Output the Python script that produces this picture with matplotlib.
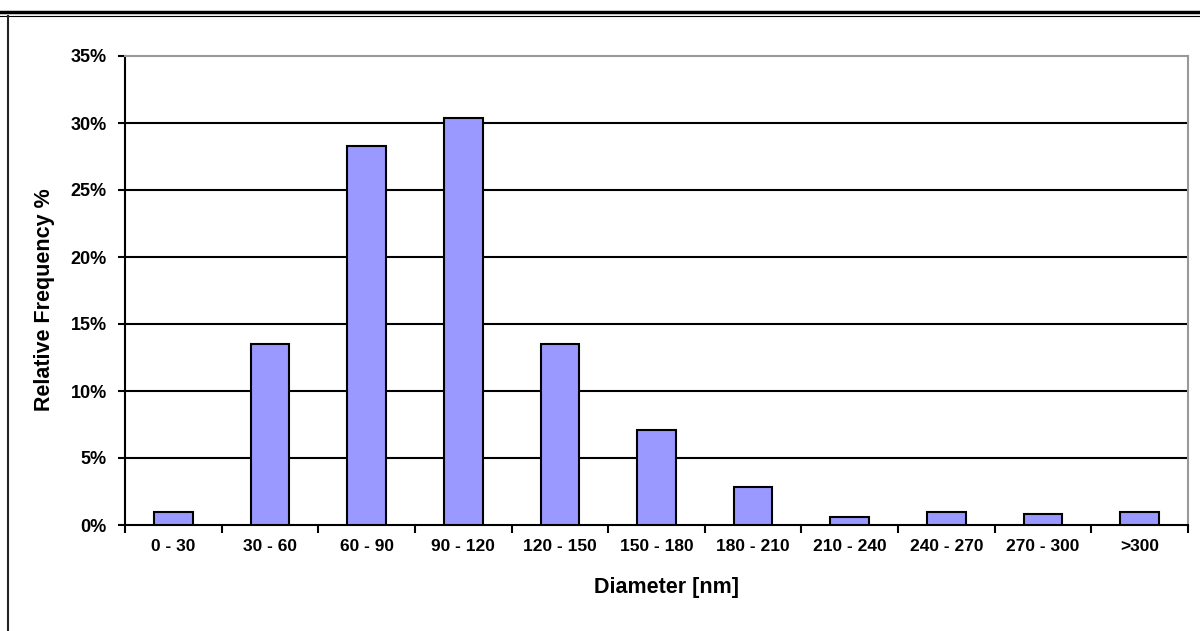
import matplotlib
matplotlib.use("Agg")
import matplotlib.pyplot as plt
from matplotlib.lines import Line2D
from matplotlib.ticker import FixedLocator, PercentFormatter

categories = ["0 - 30", "30 - 60", "60 - 90", "90 - 120", "120 - 150", "150 - 180",
              "180 - 210", "210 - 240", "240 - 270", "270 - 300", ">300"]
values = [1.0, 13.5, 28.3, 30.4, 13.5, 7.1, 2.8, 0.6, 1.0, 0.8, 1.0]
y_ticks = [0, 5, 10, 15, 20, 25, 30, 35]

plt.rcParams['font.family'] = ['Liberation Sans', 'DejaVu Sans']
plt.rcParams['font.weight'] = 'bold'

W, H = 1200, 631
fig = plt.figure(figsize=(W / 100, H / 100), dpi=100)
ax = fig.add_axes([125 / W, 1 - 525 / H, (1188 - 125) / W, (525 - 56) / H])

x = list(range(len(categories)))
ax.bar(x, values, width=0.4, color="#9999FF", edgecolor="black", linewidth=1.5, zorder=3)

ax.set_xlim(-0.5, len(categories) - 0.5)
ax.set_ylim(0, 35)

ax.yaxis.set_major_locator(FixedLocator(y_ticks))
ax.yaxis.set_major_formatter(PercentFormatter(decimals=0))
for yv in y_ticks[1:-1]:
    ax.axhline(yv, color="black", linewidth=1.5, zorder=1)

ax.set_xticks([i - 0.5 for i in range(len(categories) + 1)])
ax.set_xticklabels([])
ax.set_xticks(x, minor=True)
ax.set_xticklabels(categories, minor=True)
ax.tick_params(axis="x", which="major", direction="out", length=6, width=1.5, color="black")
ax.tick_params(axis="x", which="minor", length=0, pad=10, labelsize=12.5)
ax.tick_params(axis="y", which="major", direction="out", length=5, width=1.5, pad=8, labelsize=13)

for lab in ax.get_xticklabels(minor=True) + ax.get_yticklabels():
    lab.set_fontweight("bold")

ax.spines["left"].set_color("black")
ax.spines["left"].set_linewidth(1.5)
ax.spines["bottom"].set_color("black")
ax.spines["bottom"].set_linewidth(1.5)
ax.spines["top"].set_color("#999999")
ax.spines["top"].set_linewidth(1.5)
ax.spines["right"].set_color("#999999")
ax.spines["right"].set_linewidth(1.5)

fig.text(667 / W, 1 - 587 / H, "Diameter [nm]", ha="center", va="center",
         fontsize=15.5, fontweight="bold")
fig.text(45 / W, 1 - 300 / H, "Relative Frequency %", ha="center", va="center",
         rotation=90, fontsize=15.5, fontweight="bold")

# outer frame lines
fig.add_artist(Line2D([0, 1], [1 - 12 / H, 1 - 12 / H], transform=fig.transFigure,
                      color="black", linewidth=2.5))
fig.add_artist(Line2D([0, 1], [1 - 15.5 / H, 1 - 15.5 / H], transform=fig.transFigure,
                      color="black", linewidth=0.8))
fig.add_artist(Line2D([7.5 / W, 7.5 / W], [0, 1 - 15.5 / H], transform=fig.transFigure,
                      color="#222222", linewidth=1.5))

fig.savefig("out.png", dpi=100)
